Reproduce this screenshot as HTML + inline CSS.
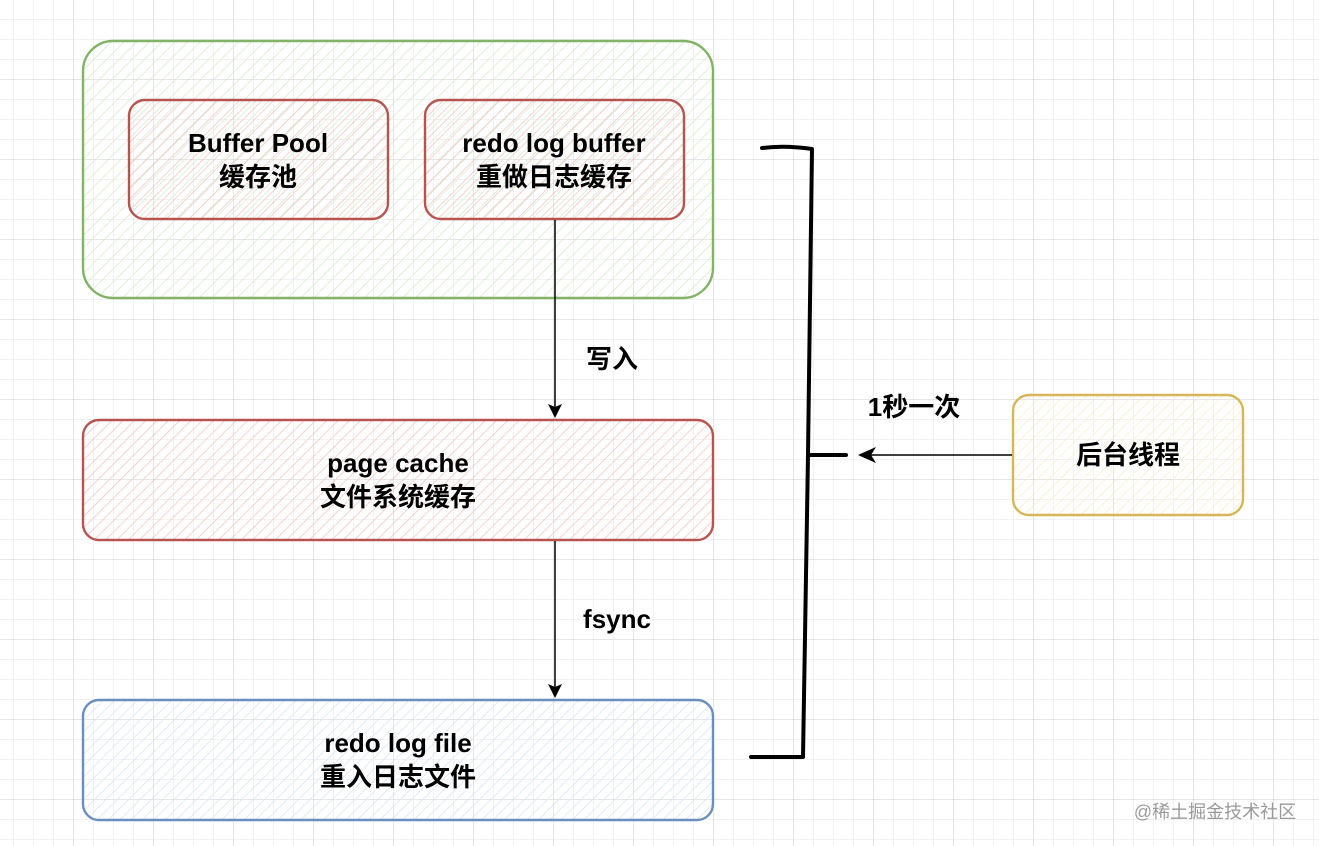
<!DOCTYPE html>
<html><head><meta charset="utf-8"><style>
html,body{margin:0;padding:0;background:#fff}
svg{display:block}
text{font-family:"Liberation Sans","Noto Sans CJK SC",sans-serif;font-weight:bold;fill:#000}
</style></head><body>
<svg width="1319" height="846" viewBox="0 0 1319 846" xmlns="http://www.w3.org/2000/svg">
<defs>
<pattern id="minor" x="13" y="19" width="20" height="20" patternUnits="userSpaceOnUse">
<path d="M0 0V20M0 0H20" stroke="#e6e6e6" stroke-width="1" fill="none"/>
</pattern>
<pattern id="major" x="73" y="79" width="80" height="80" patternUnits="userSpaceOnUse">
<path d="M0 0V80M0 0H80" stroke="#cccccc" stroke-width="1" fill="none"/>
</pattern>
<pattern id="hg" width="9" height="9" patternUnits="userSpaceOnUse" patternTransform="rotate(45)">
<path d="M0 0V9" stroke="#cfe6c4" stroke-width="1.3"/></pattern>
<pattern id="hr" width="8" height="8" patternUnits="userSpaceOnUse" patternTransform="rotate(45)">
<path d="M0 0V8" stroke="#f3c4c2" stroke-width="1.5"/></pattern>
<pattern id="hb" width="8" height="8" patternUnits="userSpaceOnUse" patternTransform="rotate(45)">
<path d="M0 0V8" stroke="#d6e4f5" stroke-width="1.5"/></pattern>
<pattern id="hy" width="8" height="8" patternUnits="userSpaceOnUse" patternTransform="rotate(45)">
<path d="M0 0V8" stroke="#f6efc8" stroke-width="1.5"/></pattern>
</defs>
<rect width="1319" height="846" fill="url(#minor)"/>
<rect width="1319" height="846" fill="url(#major)"/>

<rect x="83" y="41" width="630" height="257" rx="30" fill="url(#hg)" stroke="#82b366" stroke-width="2.4"/>
<rect x="129" y="100" width="259" height="119" rx="16" fill="url(#hr)" stroke="#b85450" stroke-width="2.4"/>
<rect x="425" y="100" width="259" height="119" rx="16" fill="url(#hr)" stroke="#b85450" stroke-width="2.4"/>
<rect x="83" y="420" width="630" height="120" rx="16" fill="url(#hr)" stroke="#b85450" stroke-width="2.4"/>
<rect x="83" y="700" width="630" height="120" rx="16" fill="url(#hb)" stroke="#6c8ebf" stroke-width="2.4"/>
<rect x="1013" y="395" width="230" height="120" rx="16" fill="url(#hy)" stroke="#d6b656" stroke-width="2.4"/>

<text x="258" y="152" font-size="26" text-anchor="middle">Buffer Pool</text>
<text x="258" y="186" font-size="26" text-anchor="middle">缓存池</text>
<text x="554" y="152" font-size="26" text-anchor="middle">redo log buffer</text>
<text x="554" y="186" font-size="26" text-anchor="middle">重做日志缓存</text>
<text x="398" y="472" font-size="26" text-anchor="middle">page cache</text>
<text x="398" y="506" font-size="26" text-anchor="middle">文件系统缓存</text>
<text x="398" y="752" font-size="26" text-anchor="middle">redo log file</text>
<text x="398" y="786" font-size="26" text-anchor="middle">重入日志文件</text>
<text x="1128" y="464" font-size="26" text-anchor="middle">后台线程</text>
<text x="612" y="368" font-size="26" text-anchor="middle">写入</text>
<text x="617" y="628" font-size="26" text-anchor="middle">fsync</text>
<text x="914" y="416" font-size="26" text-anchor="middle">1秒一次</text>

<path d="M555 220V408" stroke="#000" stroke-width="1.5"/>
<path d="M555 418L548 404L555 407L562 404Z" fill="#000"/>
<path d="M555 541V688" stroke="#000" stroke-width="1.5"/>
<path d="M555 698L548 684L555 687L562 684Z" fill="#000"/>

<path d="M762 148Q785 145 812 149L808 455L803 757L751 757" stroke="#000" stroke-width="4" fill="none" stroke-linecap="round" stroke-linejoin="round"/>
<path d="M808 455H846" stroke="#000" stroke-width="4" stroke-linecap="round"/>
<path d="M1012 455H868" stroke="#000" stroke-width="1.5"/>
<path d="M858 455L876 447L871 455L876 463Z" fill="#000"/>

<text x="1215" y="818" font-size="18" text-anchor="middle" style="font-weight:normal;fill:#9a9a9a">@稀土掘金技术社区</text>
</svg>
</body></html>
